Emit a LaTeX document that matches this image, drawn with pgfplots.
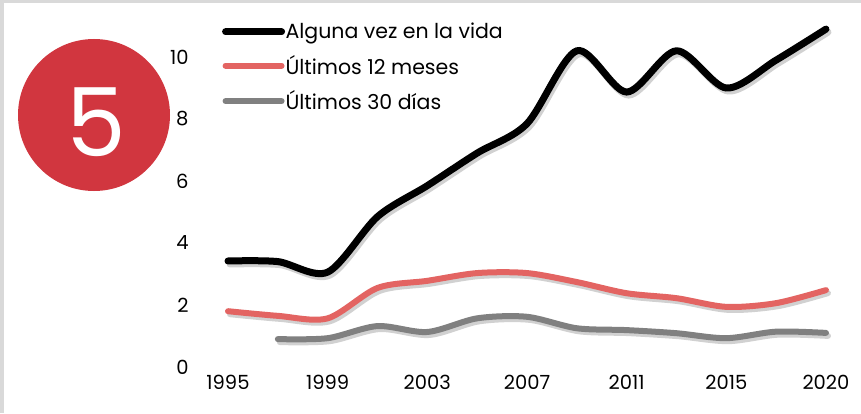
\documentclass[border=0pt]{standalone}
\usepackage{fontspec}
\setmainfont{Poppins}
\usepackage{pgfplots}
\usepackage{pgfplotstable}
\pgfplotsset{compat=1.18}
\definecolor{cBlack}{HTML}{000000}
\definecolor{cRed}{HTML}{E36462}
\definecolor{cGrey}{HTML}{808080}
\definecolor{cCircle}{HTML}{D1363F}
\definecolor{cFrame}{HTML}{D9D9D9}
\pgfplotstableread{
x y
0 3.42
1 3.40
2 3.06
3 4.85
4 5.85
5 6.90
6 7.85
7 10.2
8 8.87
9 10.2
10 9.0
11 9.9
12 10.9
}\alguna
\pgfplotstableread{
x y
0 1.80
1 1.65
2 1.57
3 2.55
4 2.78
5 3.03
6 3.03
7 2.74
8 2.38
9 2.22
10 1.94
11 2.06
12 2.48
}\doce
\pgfplotstableread{
x y
1 0.90
2 0.93
3 1.32
4 1.13
5 1.57
6 1.62
7 1.25
8 1.19
9 1.09
10 0.93
11 1.14
12 1.10
}\treinta
\begin{document}
\begin{tikzpicture}
\path[fill=cFrame] (0pt,0pt) rectangle (861pt,413pt);
\path[fill=white] (4pt,0pt) rectangle (861pt,410pt);
\fill[cCircle] (94pt,298pt) circle (76pt);
\node[text=white, font=\fontsize{95}{95}\selectfont, inner sep=0pt] at (96pt,291pt) {5};
\begin{axis}[
  at={(203.085pt,46pt)}, anchor=south west,
  scale only axis, width=647.79pt, height=356.5pt,
  xmin=-0.5, xmax=12.5, ymin=0, ymax=11.5,
  clip=false,
  axis line style={draw=none},
  tick style={draw=none},
  major tick length=0pt,
  xtick={0,2,4,6,8,10,12},
  xticklabels={1995,1999,2003,2007,2011,2015,2020},
  ytick={0,2,4,6,8,10},
  /pgf/number format/assume math mode=true,
  tick label style={font=\fontsize{19.5}{21}\selectfont, text=black},
  yticklabel style={xshift=-11pt},
  xticklabel style={yshift=-5pt},
  legend cell align=left,
  legend image code/.code={\draw[#1, line cap=round] (0pt,0pt) -- (56pt,0pt);},
  legend style={at={(0.029,0.966)}, anchor=north west, draw=none, fill=none,
    inner sep=0pt, row sep=14pt, font=\fontsize{20.5}{22}\selectfont,
    nodes={inner sep=0.5pt}},
]
\addplot[forget plot, black, opacity=0.18, line width=7pt, line cap=round, smooth, xshift=2pt, yshift=-3pt] table {\alguna};
\addplot[forget plot, black, opacity=0.18, line width=6pt, line cap=round, smooth, xshift=2pt, yshift=-3pt] table {\doce};
\addplot[forget plot, black, opacity=0.18, line width=6pt, line cap=round, smooth, xshift=2pt, yshift=-3pt] table {\treinta};
\addplot[cBlack, line width=7pt, line cap=round, smooth] table {\alguna};
\addlegendentry{Alguna vez en la vida}
\addplot[cRed, line width=6pt, line cap=round, smooth] table {\doce};
\addlegendentry{Últimos 12 meses}
\addplot[cGrey, line width=6pt, line cap=round, smooth] table {\treinta};
\addlegendentry{Últimos 30 días}
\end{axis}
\end{tikzpicture}
\end{document}
